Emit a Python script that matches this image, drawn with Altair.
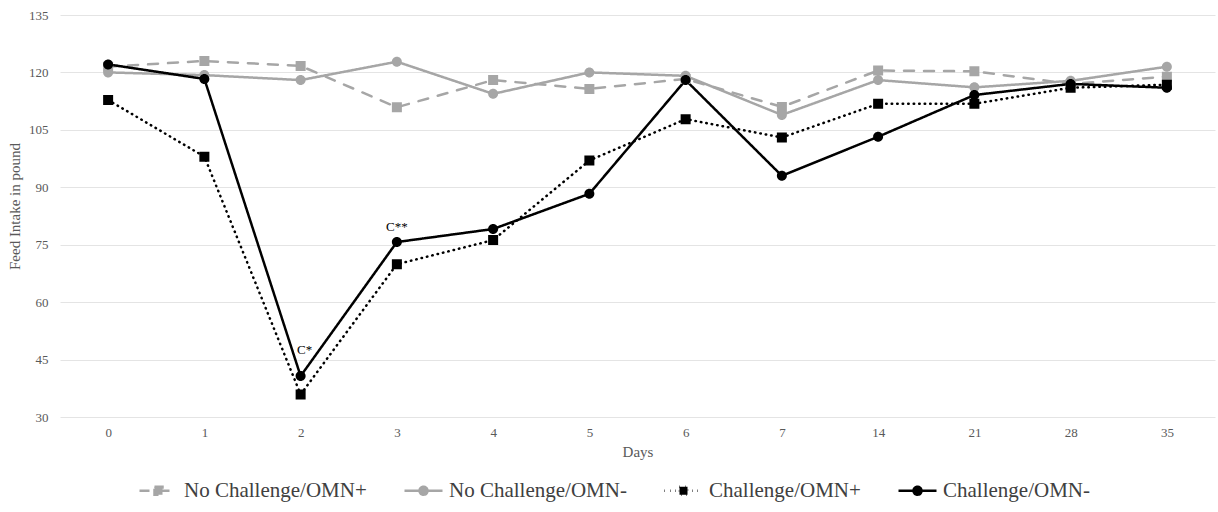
import altair as alt
import pandas as pd

# Sampling days shown on the horizontal axis
days = ["0", "1", "2", "3", "4", "5", "6", "7", "14", "21", "28", "35"]

# Treatment groups
series_names = [
    "No Challenge/OMN+",
    "No Challenge/OMN-",
    "Challenge/OMN+",
    "Challenge/OMN-",
]

# Feed intake (pound) per group and day
no_challenge_omn_plus = [121.5, 123.0, 121.7, 110.9, 118.0, 115.7, 118.3, 111.0, 120.5, 120.3, 117.0, 118.9]
no_challenge_omn_minus = [120.0, 119.3, 118.0, 122.8, 114.4, 120.0, 119.1, 108.9, 118.0, 116.1, 117.8, 121.5]
challenge_omn_plus = [112.8, 98.0, 35.9, 69.9, 76.2, 97.0, 107.8, 103.0, 111.8, 111.8, 116.0, 116.8]
challenge_omn_minus = [122.1, 118.3, 40.7, 75.7, 79.1, 88.3, 118.0, 93.0, 103.2, 114.1, 117.0, 116.0]

# Significance annotations on the Challenge/OMN- line
annotation_days = ["2", "3"]
annotation_labels = ["C*", "C**"]

y_ticks = [30, 45, 60, 75, 90, 105, 120, 135]

all_values = [no_challenge_omn_plus, no_challenge_omn_minus, challenge_omn_plus, challenge_omn_minus]
rows = []
for name, vals in zip(series_names, all_values):
    for d, v in zip(days, vals):
        rows.append({"Day": d, "Intake": v, "Series": name})
df = pd.DataFrame(rows)

ann_rows = []
for d, lab in zip(annotation_days, annotation_labels):
    ann_rows.append({"Day": d, "Intake": challenge_omn_minus[days.index(d)], "Label": lab})
ann = pd.DataFrame(ann_rows)

FONT = "Liberation Serif"
GRAY = "#a6a6a6"

# Marker glyphs: a filled marker plus a horizontal stroke that only shows in the legend
SQUARE = "M-4.75,0H4.75M-1,-1H1V1H-1Z"
CIRCLE = "M-4.75,0H4.75M-1,0A1,1 0 1,0 1,0A1,1 0 1,0 -1,0Z"

color_scale = alt.Scale(domain=series_names, range=[GRAY, GRAY, "#000000", "#000000"])
dash_scale = alt.Scale(domain=series_names, range=[[10, 10], [1, 0], [0.5, 5], [1, 0]])
shape_scale = alt.Scale(domain=series_names, range=[SQUARE, CIRCLE, SQUARE, CIRCLE])

legend = alt.Legend(
    title=None,
    orient="none",
    direction="horizontal",
    legendX=88,
    legendY=465,
    labelFont=FONT,
    labelFontSize=21,
    labelColor="#404040",
    labelLimit=0,
    labelOffset=15,
    columnPadding=32,
    symbolSize=64,
    symbolStrokeWidth=2.5,
)

x_enc = alt.X(
    "Day:O",
    sort=days,
    scale=alt.Scale(type="point", padding=0.5),
    axis=alt.Axis(title="Days", labelAngle=0, labelPadding=9, titlePadding=5, grid=False),
)
y_enc = alt.Y(
    "Intake:Q",
    scale=alt.Scale(domain=[30, 135], nice=False, zero=False),
    axis=alt.Axis(
        title="Feed Intake in pound", values=y_ticks, labelPadding=12, titlePadding=6, titleY=191
    ),
)

lines = alt.Chart(df).mark_line(strokeWidth=2.5, strokeCap="round", strokeJoin="round").encode(
    x=x_enc,
    y=y_enc,
    color=alt.Color("Series:N", scale=color_scale, sort=series_names, legend=legend),
    strokeDash=alt.StrokeDash("Series:N", scale=dash_scale, sort=series_names, legend=legend),
    detail="Series:N",
)

points = alt.Chart(df).mark_point(filled=True, size=100, opacity=1).encode(
    x=x_enc,
    y=y_enc,
    color=alt.Color("Series:N", scale=color_scale, sort=series_names, legend=legend),
    shape=alt.Shape("Series:N", scale=shape_scale, sort=series_names, legend=legend),
)

ann_star = alt.Chart(ann).transform_filter(alt.datum.Label == "C*").mark_text(
    font=FONT, fontSize=13, color="#000000", dy=-26, dx=4
).encode(x=x_enc, y=y_enc, text="Label:N")

ann_star2 = alt.Chart(ann).transform_filter(alt.datum.Label == "C**").mark_text(
    font=FONT, fontSize=13, color="#000000", dy=-15
).encode(x=x_enc, y=y_enc, text="Label:N")

chart = (
    alt.layer(lines, points, ann_star, ann_star2)
    .properties(
        width=1155,
        height=402,
        padding={"left": 60, "top": 15, "right": 3, "bottom": 95},
        autosize=alt.AutoSizeParams(type="none"),
        background="white",
    )
    .configure_view(stroke=None)
    .configure_legend(labelFont=FONT, labelFontSize=21, labelColor="#404040", labelLimit=0)
    .configure_axis(
        domain=False,
        ticks=False,
        gridColor="#e4e4e4",
        gridWidth=1,
        labelFont=FONT,
        labelFontSize=13,
        labelColor="#595959",
        titleFont=FONT,
        titleFontSize=15,
        titleFontWeight="normal",
        titleColor="#595959",
    )
)

chart.save("out.html", embed_options={"renderer": "svg", "actions": False})
